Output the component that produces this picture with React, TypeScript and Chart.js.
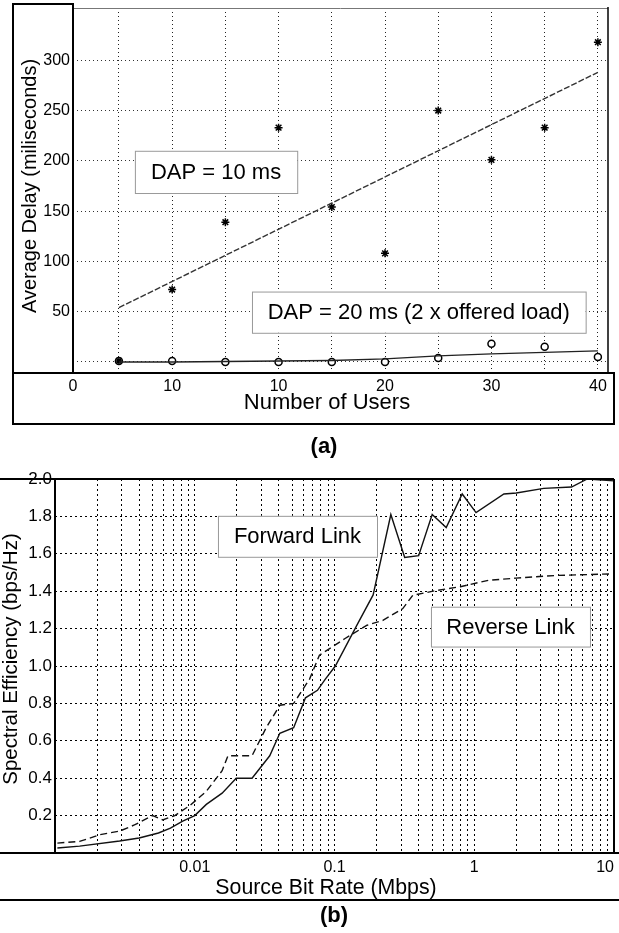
import { useEffect, useRef } from 'react';
import { Chart, registerables } from 'chart.js';
Chart.register(...registerables);

const FONT = '"Liberation Sans", Arial, Helvetica, sans-serif';

// ---------- (a) Average delay vs number of users ----------
const userSlots = [1, 2, 3, 4, 5, 6, 7, 8, 9, 10];
const delayDap10 = [1, 72, 139, 233, 154, 108, 250, 201, 233, 318];
const delayDap20 = [1, 1, 0, 0, 0, 0, 4, 18, 15, 5];
const fitDap10Slots = [1, 10];
const fitDap10Delay = [54, 288];
const fitDap20Delay = [0, 0, 0.5, 1, 1.5, 3, 6, 8, 9.5, 11];
const usersTickSlots = [0.137, 2, 4, 6, 8, 10];
const usersTickLabels = ['0', '10', '10', '20', '30', '40'];
const delayTicks = [0, 50, 100, 150, 200, 250, 300];

// ---------- (b) Spectral efficiency vs source bit rate ----------
const fwdRate = [0.00104, 0.0015, 0.0029, 0.004, 0.0055, 0.0067, 0.0082, 0.01, 0.0121, 0.0157, 0.0198, 0.0257, 0.0344, 0.0406, 0.051, 0.062, 0.0755, 0.086, 0.1014, 0.145, 0.189, 0.253, 0.318, 0.4, 0.5, 0.63, 0.82, 1.03, 1.63, 2.0, 3.14, 4.96, 6.44, 10];
const fwdEff = [0.027, 0.037, 0.064, 0.08, 0.107, 0.133, 0.17, 0.2, 0.26, 0.32, 0.4, 0.4, 0.52, 0.64, 0.67, 0.83, 0.87, 0.93, 1.0, 1.22, 1.38, 1.81, 1.58, 1.59, 1.81, 1.74, 1.92, 1.82, 1.92, 1.925, 1.95, 1.957, 2.0, 1.99];
const revRate = [0.00104, 0.0015, 0.0021, 0.0029, 0.0037, 0.005, 0.0059, 0.0072, 0.0093, 0.0121, 0.0157, 0.0173, 0.0204, 0.0257, 0.0323, 0.0406, 0.051, 0.0663, 0.078, 0.119, 0.171, 0.222, 0.308, 0.363, 0.537, 0.795, 1.26, 1.99, 3.82, 10];
const revEff = [0.053, 0.062, 0.098, 0.117, 0.15, 0.2, 0.177, 0.2, 0.256, 0.33, 0.44, 0.52, 0.52, 0.52, 0.667, 0.79, 0.8, 0.93, 1.058, 1.147, 1.218, 1.244, 1.307, 1.378, 1.404, 1.424, 1.458, 1.47, 1.484, 1.493];
const rateTickValues = [0.01, 0.1, 1, 10];
const rateTickLabels = ['0.01', '0.1', '1', '10'];
const effTicks = [0, 0.2, 0.4, 0.6, 0.8, 1.0, 1.2, 1.4, 1.6, 1.8, 2.0];

const fixScale = (size: number, horizontal: boolean) => (scale: any) => {
  if (horizontal) scale.height = size;
  else scale.width = size;
  scale.paddingLeft = 0;
  scale.paddingRight = 0;
  scale.paddingTop = 0;
  scale.paddingBottom = 0;
};

function drawBox(ctx: CanvasRenderingContext2D, chart: any, x0: number, x1: number, y0: number, y1: number, text: string) {
  const xs = chart.scales.x;
  const ys = chart.scales.y;
  const l = xs.getPixelForValue(x0);
  const r = xs.getPixelForValue(x1);
  const t = ys.getPixelForValue(y0);
  const b = ys.getPixelForValue(y1);
  ctx.save();
  ctx.fillStyle = '#fff';
  ctx.fillRect(l, t, r - l, b - t);
  ctx.strokeStyle = '#999';
  ctx.lineWidth = 1;
  ctx.strokeRect(l + 0.5, t + 0.5, r - l, b - t);
  ctx.fillStyle = '#000';
  ctx.font = `22px ${FONT}`;
  ctx.textAlign = 'center';
  ctx.textBaseline = 'middle';
  ctx.fillText(text, (l + r) / 2, (t + b) / 2 + 1);
  ctx.restore();
}

function line(ctx: CanvasRenderingContext2D, x0: number, y0: number, x1: number, y1: number, w: number, c = '#000') {
  ctx.save();
  ctx.strokeStyle = c;
  ctx.lineWidth = w;
  ctx.beginPath();
  ctx.moveTo(x0, y0);
  ctx.lineTo(x1, y1);
  ctx.stroke();
  ctx.restore();
}

function text(ctx: CanvasRenderingContext2D, s: string, x: number, y: number, font: string, rot = 0) {
  ctx.save();
  ctx.translate(x, y);
  if (rot) ctx.rotate(rot);
  ctx.fillStyle = '#000';
  ctx.font = font;
  ctx.textAlign = 'center';
  ctx.textBaseline = 'middle';
  ctx.fillText(s, 0, 0);
  ctx.restore();
}

const decorA = {
  id: 'decorA',
  afterDatasetsDraw(chart: any) {
    const ctx = chart.ctx;
    drawBox(ctx, chart, 1.3, 4.35, 210, 168, 'DAP = 10 ms');
    drawBox(ctx, chart, 3.5, 9.77, 70, 29, 'DAP = 20 ms (2 x offered load)');
  },
  afterDraw(chart: any) {
    const ctx = chart.ctx;
    const a = chart.chartArea;
    line(ctx, a.left, a.top + 0.5, a.right, a.top + 0.5, 1, '#777');
    line(ctx, a.right, a.top - 1, a.right, a.bottom, 1.5);
    ctx.save();
    ctx.strokeStyle = '#000';
    ctx.lineWidth = 2;
    ctx.strokeRect(13, 4, a.left - 13, a.bottom - 4);
    ctx.strokeRect(13, a.bottom, 614 - 13, 424 - a.bottom);
    ctx.restore();
    text(ctx, 'Average Delay (miliseconds)', 30, 186, `20px ${FONT}`, -Math.PI / 2);
    text(ctx, 'Number of Users', 327, 403, `22px ${FONT}`);
    text(ctx, '(a)', 324, 447, `bold 22px ${FONT}`);
  },
};

const decorB = {
  id: 'decorB',
  afterDatasetsDraw(chart: any) {
    const ctx = chart.ctx;
    drawBox(ctx, chart, 0.01466, 0.2014, 1.803, 1.584, 'Forward Link');
    drawBox(ctx, chart, 0.49, 6.73, 1.317, 1.104, 'Reverse Link');
  },
  afterDraw(chart: any) {
    const ctx = chart.ctx;
    const a = chart.chartArea;
    line(ctx, 0, a.top, a.right, a.top, 2);
    line(ctx, a.left, a.top, a.left, a.bottom, 2);
    line(ctx, a.right, a.top, a.right, a.bottom, 2);
    line(ctx, 0, a.bottom, 619, a.bottom, 2);
    line(ctx, 0, 435, 619, 435, 2);
    text(ctx, 'Spectral Efficiency (bps/Hz)', 11, 659 - 465, `20.5px ${FONT}`, -Math.PI / 2);
    text(ctx, 'Source Bit Rate (Mbps)', 326, 888 - 465, `21.3px ${FONT}`);
    text(ctx, '(b)', 334, 916 - 465, `bold 22px ${FONT}`);
  },
};

export default function App() {
  const refA = useRef<HTMLCanvasElement>(null);
  const refB = useRef<HTMLCanvasElement>(null);

  useEffect(() => {
    const tickFont = { family: FONT, size: 16 };

    const chartA = new Chart(refA.current as HTMLCanvasElement, {
      type: 'scatter',
      data: {
        datasets: [
          {
            label: 'DAP = 10 ms fit',
            data: fitDap10Slots.map((s, i) => ({ x: s, y: fitDap10Delay[i] })),
            showLine: true,
            borderColor: '#333',
            borderWidth: 1.4,
            borderDash: [6, 2],
            pointRadius: 0,
          },
          {
            label: 'DAP = 20 ms fit',
            data: userSlots.map((s, i) => ({ x: s, y: fitDap20Delay[i] })),
            showLine: true,
            borderColor: '#222',
            borderWidth: 1.4,
            pointRadius: 0,
          },
          {
            label: 'DAP = 10 ms',
            data: userSlots.map((s, i) => ({ x: s, y: delayDap10[i] })),
            pointStyle: 'star',
            pointRadius: 4,
            borderColor: '#000',
            borderWidth: 1.5,
            backgroundColor: '#000',
          },
          {
            label: 'DAP = 20 ms',
            data: userSlots.map((s, i) => ({ x: s, y: delayDap20[i] })),
            pointStyle: 'circle',
            pointRadius: 3.5,
            borderColor: '#000',
            borderWidth: 1.5,
            backgroundColor: '#fff',
          },
        ],
      },
      options: {
        animation: false,
        responsive: false,
        devicePixelRatio: 1,
        layout: { padding: { top: 8, right: 11, left: 0, bottom: 0 } },
        plugins: { legend: { display: false }, tooltip: { enabled: false } },
        scales: {
          x: {
            type: 'linear',
            min: 0.137,
            max: 10.19,
            afterBuildTicks: (scale: any) => {
              const vals = [usersTickSlots[0], ...userSlots];
              scale.ticks = vals.map((v) => ({ value: v }));
            },
            afterFit: fixScale(92, true),
            ticks: {
              autoSkip: false,
              maxRotation: 0,
              padding: 4,
              color: '#000',
              font: tickFont,
              callback: (v: any) => {
                const i = usersTickSlots.findIndex((s) => Math.abs(s - v) < 1e-6);
                return i >= 0 ? usersTickLabels[i] : '';
              },
            },
            grid: {
              drawTicks: false,
              color: (c: any) => (c.tick && c.tick.value < 0.5 ? 'rgba(0,0,0,0)' : '#222'),
              lineWidth: 1,
            },
            border: { display: false, dash: [1, 3] },
          },
          y: {
            type: 'linear',
            min: -11,
            max: 352,
            afterBuildTicks: (scale: any) => {
              scale.ticks = delayTicks.map((v) => ({ value: v }));
            },
            afterFit: fixScale(73, false),
            ticks: {
              padding: 3,
              color: '#000',
              font: tickFont,
              callback: (v: any) => (v === 0 ? '' : String(v)),
            },
            grid: { drawTicks: false, color: '#333', lineWidth: 1 },
            border: { display: false, dash: [1, 3] },
          },
        },
      },
      plugins: [decorA],
    } as any);

    const chartB = new Chart(refB.current as HTMLCanvasElement, {
      type: 'line',
      data: {
        datasets: [
          {
            label: 'Forward Link',
            data: fwdRate.map((r, i) => ({ x: r, y: fwdEff[i] })),
            borderColor: '#111',
            borderWidth: 1.4,
            pointRadius: 0,
            tension: 0,
          },
          {
            label: 'Reverse Link',
            data: revRate.map((r, i) => ({ x: r, y: revEff[i] })),
            borderColor: '#111',
            borderWidth: 1.4,
            borderDash: [7, 4],
            pointRadius: 0,
            tension: 0,
          },
        ],
      },
      options: {
        animation: false,
        responsive: false,
        devicePixelRatio: 1,
        layout: { padding: { top: 14, right: 5, left: 0, bottom: 0 } },
        plugins: { legend: { display: false }, tooltip: { enabled: false } },
        scales: {
          x: {
            type: 'logarithmic',
            min: 0.001,
            max: 10,
            afterBuildTicks: (scale: any) => {
              const vals: number[] = [];
              for (let e = -3; e <= 0; e++) {
                for (let m = 1; m <= 9; m++) vals.push(Number((m * Math.pow(10, e)).toPrecision(3)));
              }
              vals.push(10);
              scale.ticks = vals.map((v) => ({ value: v }));
            },
            afterFit: fixScale(80, true),
            ticks: {
              autoSkip: false,
              maxRotation: 0,
              padding: 5,
              color: '#000',
              font: tickFont,
              callback: (v: any) => {
                const i = rateTickValues.findIndex((s) => Math.abs(s - v) / s < 1e-6);
                if (i < 0) return '';
                return i === rateTickValues.length - 1 ? rateTickLabels[i] + '\u2007\u2007' : rateTickLabels[i];
              },
            },
            grid: { drawTicks: false, color: '#000', lineWidth: 1 },
            border: { display: false, dash: [2, 3] },
          },
          y: {
            type: 'linear',
            min: 0,
            max: 2,
            afterBuildTicks: (scale: any) => {
              scale.ticks = effTicks.map((v) => ({ value: v }));
            },
            afterFit: fixScale(55, false),
            ticks: {
              padding: 3,
              color: '#000',
              font: { family: FONT, size: 17 },
              callback: (v: any) => (v === 0 ? '' : Number(v).toFixed(1)),
            },
            grid: { drawTicks: false, color: '#000', lineWidth: 1 },
            border: { display: false, dash: [2, 3] },
          },
        },
      },
      plugins: [decorB],
    } as any);

    return () => {
      chartA.destroy();
      chartB.destroy();
    };
  }, []);

  return (
    <div style={{ position: 'absolute', left: 0, top: 0, width: 619, height: 933, background: '#fff' }}>
      <canvas ref={refA} width={619} height={465} style={{ position: 'absolute', left: 0, top: 0, width: 619, height: 465 }} />
      <canvas ref={refB} width={619} height={468} style={{ position: 'absolute', left: 0, top: 465, width: 619, height: 468 }} />
    </div>
  );
}
